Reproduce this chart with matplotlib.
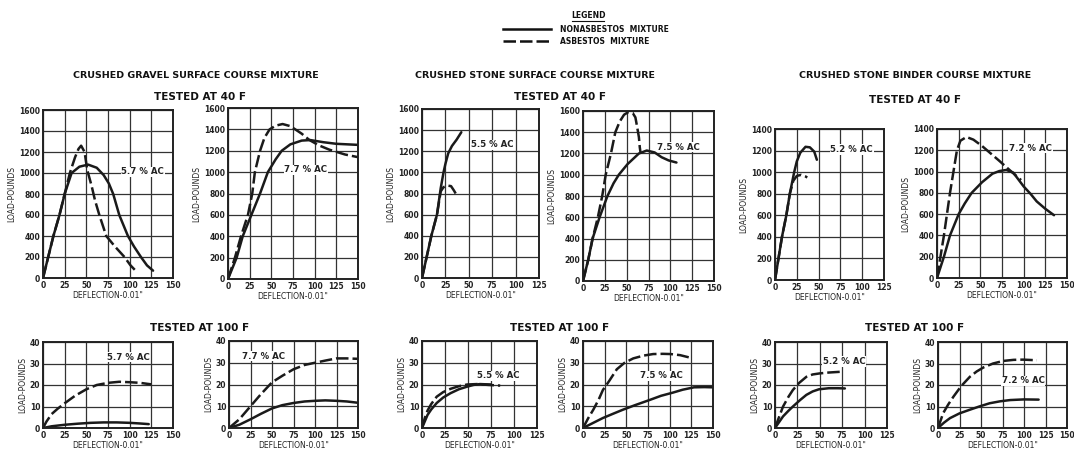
import matplotlib
matplotlib.use("Agg")
import matplotlib.pyplot as plt
from matplotlib.lines import Line2D

plt.rcParams['font.family'] = ['DejaVu Sans']
plt.rcParams['font.weight'] = 'bold'

# ---- data (deflection in 0.01", load in pounds) ----
# tested at 40 F
gravel_40_label = "5.7 % AC"
gravel_40_solid_x = [0, 6, 12, 19, 25, 33, 42, 52, 62, 70, 76, 81, 88, 98, 105, 113, 120, 127]
gravel_40_solid_y = [0, 200, 400, 600, 800, 1000, 1060, 1080, 1050, 980, 900, 800, 600, 400, 300, 200, 120, 70]
gravel_40_dash_x = [0, 6, 12, 19, 25, 31, 37, 41, 44, 48, 51, 56, 60, 65, 73, 83, 94, 101, 108]
gravel_40_dash_y = [0, 200, 400, 600, 800, 1000, 1150, 1230, 1260, 1200, 1030, 880, 740, 600, 400, 300, 200, 120, 60]

gravel_40b_label = "7.7 % AC"
gravel_40b_solid_x = [0, 10, 17, 27, 37, 46, 55, 62, 72, 85, 95, 110, 125, 150]
gravel_40b_solid_y = [0, 200, 400, 600, 800, 1000, 1120, 1200, 1260, 1295, 1300, 1280, 1265, 1255]
gravel_40b_dash_x = [0, 8, 15, 23, 28, 31, 37, 42, 48, 55, 63, 72, 85, 94, 105, 117, 135, 150]
gravel_40b_dash_y = [0, 200, 400, 600, 800, 1000, 1200, 1320, 1400, 1435, 1450, 1430, 1360, 1300, 1250, 1210, 1165, 1140]

stone_40_label = "5.5 % AC"
stone_40_solid_x = [0, 10, 16, 20, 23, 25, 28, 32, 37, 42]
stone_40_solid_y = [0, 400, 600, 850, 1000, 1080, 1180, 1250, 1310, 1380]
stone_40_dash_x = [0, 10, 16, 20, 23, 27, 31, 34, 36]
stone_40_dash_y = [0, 400, 600, 820, 860, 875, 870, 830, 800]

stone_40b_label = "7.5 % AC"
stone_40b_solid_x = [0, 6, 11, 19, 28, 35, 41, 51, 64, 73, 82, 90, 98, 107]
stone_40b_solid_y = [0, 200, 400, 600, 800, 920, 1000, 1100, 1200, 1228, 1210, 1165, 1135, 1115]
stone_40b_dash_x = [0, 6, 11, 17, 22, 26, 32, 37, 42, 47, 52, 57, 60, 62, 64, 65, 66]
stone_40b_dash_y = [0, 200, 400, 600, 800, 1000, 1200, 1400, 1500, 1565, 1590, 1580, 1540, 1450, 1354, 1260, 1200]

binder_40_label = "5.2 % AC"
binder_40_solid_x = [0, 4, 8, 13, 17, 22, 25, 29, 35, 40, 45, 48]
binder_40_solid_y = [0, 200, 400, 600, 800, 1000, 1100, 1180, 1235, 1230, 1190, 1115]
binder_40_dash_x = [0, 4, 8, 13, 17, 21, 25, 30, 35, 37]
binder_40_dash_y = [0, 200, 400, 600, 800, 920, 965, 975, 960, 950]

binder_40b_label = "7.2 % AC"
binder_40b_solid_x = [0, 8, 15, 25, 32, 40, 52, 64, 72, 80, 88, 100, 108, 115, 125, 135]
binder_40b_solid_y = [0, 200, 400, 600, 700, 800, 900, 980, 1005, 1015, 990, 860, 790, 720, 650, 590]
binder_40b_dash_x = [0, 4, 8, 11.5, 15, 19, 23, 27, 34, 42, 52, 62, 72, 83, 90, 97]
binder_40b_dash_y = [0, 200, 400, 600, 800, 1000, 1200, 1290, 1325, 1300, 1240, 1170, 1100, 1020, 970, 920]

# tested at 100 F
gravel_100_label = "5.7 % AC"
gravel_100_solid_x = [0, 10, 25, 40, 55, 70, 85, 100, 112, 122]
gravel_100_solid_y = [0, 0.8, 1.5, 2.0, 2.4, 2.6, 2.6, 2.4, 2.1, 1.8]
gravel_100_dash_x = [0, 4, 10, 17, 25, 37, 50, 62, 75, 88, 100, 112, 125]
gravel_100_dash_y = [0, 3, 6.5, 9, 11.5, 15, 18, 20, 21, 21.5, 21.3, 21, 20.3]

gravel_100b_label = "7.7 % AC"
gravel_100b_solid_x = [0, 12, 25, 37, 50, 62, 75, 88, 100, 112, 125, 137, 150]
gravel_100b_solid_y = [0, 1.5, 4, 6.5, 9, 10.5, 11.5, 12.2, 12.5, 12.7, 12.5, 12.2, 11.6]
gravel_100b_dash_x = [0, 12, 25, 37, 50, 62, 75, 88, 100, 112, 125, 137, 150]
gravel_100b_dash_y = [0, 4, 10, 15.5, 21, 24, 27, 29, 30, 31, 32, 32, 31.8]

stone_100_label = "5.5 % AC"
stone_100_solid_x = [0, 3, 6, 10, 16, 23, 31, 40, 49, 56, 63, 75]
stone_100_solid_y = [0, 3, 6, 8.5, 11.5, 14, 16, 17.8, 19, 19.8, 20.2, 20]
stone_100_dash_x = [0, 3, 6, 10, 16, 23, 31, 40, 49, 60, 72, 85]
stone_100_dash_y = [0, 4.5, 8, 11, 14.4, 16.5, 18, 19.2, 20, 20.2, 19.8, 19.5]

stone_100b_label = "7.5 % AC"
stone_100b_solid_x = [0, 10, 23, 35, 46, 60, 77, 90, 104, 115, 128, 140, 150]
stone_100b_solid_y = [0, 2, 4.6, 6.6, 8.4, 10.5, 12.9, 14.8, 16.3, 17.6, 18.7, 18.8, 18.7]
stone_100b_dash_x = [0, 6, 12, 18, 23, 30, 39, 48, 58, 70, 81, 92, 101, 112, 122]
stone_100b_dash_y = [0, 4.5, 8.5, 13, 17.5, 21.5, 27, 30, 32, 33.3, 34, 34.1, 34, 33.5, 32.5]

binder_100_label = "5.2 % AC"
binder_100_solid_x = [0, 5, 9, 15, 20, 28, 35, 42, 49, 60, 70, 78]
binder_100_solid_y = [0, 3, 5.4, 8, 10, 13, 15.4, 17, 18, 18.5, 18.5, 18.4]
binder_100_dash_x = [0, 4, 9, 15, 20, 27, 35, 42, 50, 60, 75]
binder_100_dash_y = [0, 4.5, 10, 14.5, 17.7, 21, 23.8, 24.9, 25.4, 25.8, 26.2]

binder_100b_label = "7.2 % AC"
binder_100b_solid_x = [0, 7, 14, 25, 37, 48, 60, 72, 84, 100, 117]
binder_100b_solid_y = [0, 2.5, 4.6, 6.8, 8.5, 10, 11.5, 12.4, 13, 13.3, 13.2]
binder_100b_dash_x = [0, 6, 12, 18, 27, 37, 45, 53, 64, 76, 88, 99, 115]
binder_100b_dash_y = [0, 6.9, 11, 14.6, 19.5, 23.8, 26.3, 28.2, 30, 31.2, 31.7, 31.8, 31.5]

group_titles = ["CRUSHED GRAVEL SURFACE COURSE MIXTURE",
                "CRUSHED STONE SURFACE COURSE MIXTURE",
                "CRUSHED STONE BINDER COURSE MIXTURE"]

W, H = 1074, 454
fig = plt.figure(figsize=(W / 100, H / 100), dpi=100)
fig.patch.set_facecolor("white")


def px_axes(x0, x1, yt, yb):
    return fig.add_axes([x0 / W, 1 - yb / H, (x1 - x0) / W, (yb - yt) / H])


def panel(rect, xmax, ymax, ystep, sx, sy, dx, dy, label, lx, ly):
    ax = px_axes(*rect)
    ax.plot(sx, sy, color="#1a1a1a", lw=1.8, solid_capstyle="round")
    ax.plot(dx, dy, color="#1a1a1a", lw=1.8, dashes=(5, 1.6))
    ax.set_xlim(0, xmax)
    ax.set_ylim(0, ymax)
    ax.set_xticks(range(0, xmax + 1, 25))
    ax.set_yticks(range(0, ymax + 1, ystep))
    ax.grid(True, color="#333333", lw=0.9)
    ax.set_axisbelow(True)
    for s in ax.spines.values():
        s.set_linewidth(1.4)
        s.set_color("#222222")
    ax.tick_params(length=0, pad=2, labelsize=5.5, colors="#222222")
    ax.set_xlabel('DEFLECTION-0.01"', fontsize=5.5, labelpad=1, color="#222222")
    ax.set_ylabel("LOAD-POUNDS", fontsize=5.5, labelpad=2, color="#222222")
    ax.text(lx, ly, label, fontsize=6.2, ha="center", va="center", color="#222222",
            bbox=dict(facecolor="white", edgecolor="none", pad=0.5))
    return ax


# top row, tested at 40 F
panel((43, 173, 110, 278), 150, 1600, 200, gravel_40_solid_x, gravel_40_solid_y,
      gravel_40_dash_x, gravel_40_dash_y, gravel_40_label, 115, 1010)
panel((228, 358, 108, 279), 150, 1600, 200, gravel_40b_solid_x, gravel_40b_solid_y,
      gravel_40b_dash_x, gravel_40b_dash_y, gravel_40b_label, 90, 1020)
panel((422, 539, 109, 278), 125, 1600, 200, stone_40_solid_x, stone_40_solid_y,
      stone_40_dash_x, stone_40_dash_y, stone_40_label, 75, 1260)
ax4 = panel((583, 714, 111, 281), 150, 1600, 200, stone_40b_solid_x, stone_40b_solid_y,
            stone_40b_dash_x, stone_40b_dash_y, stone_40b_label, 109, 1260)
panel((775, 884, 129, 280), 125, 1400, 200, binder_40_solid_x, binder_40_solid_y,
      binder_40_dash_x, binder_40_dash_y, binder_40_label, 88, 1210)
panel((937, 1067, 129, 278), 150, 1400, 200, binder_40b_solid_x, binder_40b_solid_y,
      binder_40b_dash_x, binder_40b_dash_y, binder_40b_label, 108, 1220)

# bottom row, tested at 100 F
panel((43, 173, 342, 428), 150, 40, 10, gravel_100_solid_x, gravel_100_solid_y,
      gravel_100_dash_x, gravel_100_dash_y, gravel_100_label, 98, 33)
panel((229, 358, 341, 428), 150, 40, 10, gravel_100b_solid_x, gravel_100b_solid_y,
      gravel_100b_dash_x, gravel_100b_dash_y, gravel_100b_label, 40, 33)
panel((422, 537, 341, 428), 125, 40, 10, stone_100_solid_x, stone_100_solid_y,
      stone_100_dash_x, stone_100_dash_y, stone_100_label, 83, 24)
panel((583, 713, 341, 428), 150, 40, 10, stone_100b_solid_x, stone_100b_solid_y,
      stone_100b_dash_x, stone_100b_dash_y, stone_100b_label, 91, 24)
panel((775, 887, 342, 428), 125, 40, 10, binder_100_solid_x, binder_100_solid_y,
      binder_100_dash_x, binder_100_dash_y, binder_100_label, 77, 31)
panel((938, 1067, 342, 428), 150, 40, 10, binder_100b_solid_x, binder_100b_solid_y,
      binder_100b_dash_x, binder_100b_dash_y, binder_100b_label, 99, 22)

# headings
for cx, t in zip([196, 535, 915], group_titles):
    fig.text(cx / W, 1 - 75 / H, t, fontsize=6.8, ha="center", va="center", color="#111111")
for cx, cy in zip([200, 560, 915], [97, 97, 100]):
    fig.text(cx / W, 1 - cy / H, "TESTED AT 40 F", fontsize=7.5, ha="center", va="center",
             color="#111111")
for cx in [200, 560, 915]:
    fig.text(cx / W, 1 - 328 / H, "TESTED AT 100 F", fontsize=7.5, ha="center", va="center",
             color="#111111")

# legend drawn by hand at the top
fig.text(588 / W, 1 - 15 / H, "LEGEND", fontsize=5.5, ha="center", va="center", color="#111111")
fig.add_artist(Line2D([572 / W, 604 / W], [1 - 21 / H, 1 - 21 / H], color="#111111", lw=0.8))
fig.add_artist(Line2D([503 / W, 551 / W], [1 - 29 / H, 1 - 29 / H], color="#111111", lw=1.8))
fig.add_artist(Line2D([503 / W, 551 / W], [1 - 41 / H, 1 - 41 / H], color="#111111", lw=1.8,
                      dashes=(5, 1.6)))
fig.text(560 / W, 1 - 29 / H, "NONASBESTOS  MIXTURE", fontsize=5.5, ha="left", va="center",
         color="#111111")
fig.text(560 / W, 1 - 41 / H, "ASBESTOS  MIXTURE", fontsize=5.5, ha="left", va="center",
         color="#111111")

fig.savefig("out.png", dpi=100, facecolor="white")
